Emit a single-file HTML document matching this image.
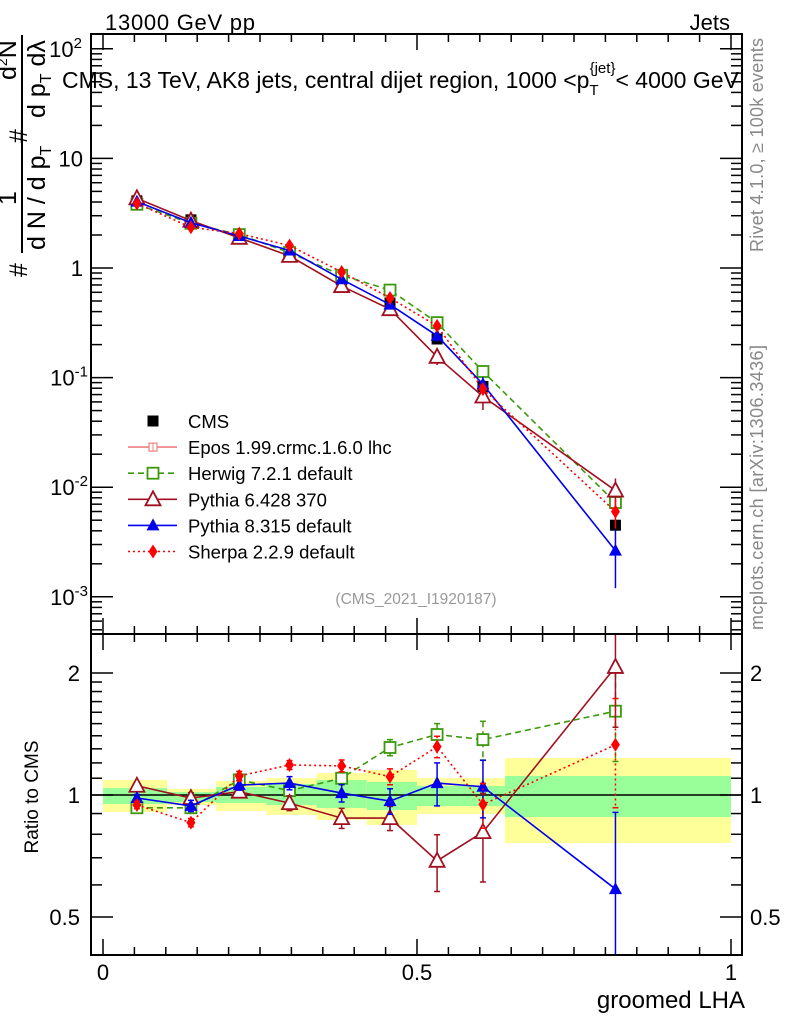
<!DOCTYPE html>
<html><head><meta charset="utf-8"><style>
html,body{margin:0;padding:0;background:#fff}
svg{display:block;font-family:"Liberation Sans",sans-serif}
</style></head><body>
<svg id="c" width="786" height="1024" viewBox="0 0 786 1024" xmlns="http://www.w3.org/2000/svg">
<rect width="786" height="1024" fill="#fff"/>
<g id="bands"></g>
<g id="series"></g>
<g id="axes"></g>
<text x="105" y="30" font-size="22" textLength="150">13000 GeV pp</text>
<text x="730" y="30" font-size="22" text-anchor="end">Jets</text>
<text x="62" y="88" font-size="23">CMS, 13 TeV, AK8 jets, central dijet region, 1000 &lt;p<tspan font-size="15" dy="7">T</tspan><tspan font-size="15" dy="-22" dx="-9">{jet}</tspan><tspan dy="15">&lt; 4000 GeV</tspan></text>
<text x="416" y="604" font-size="15.5" fill="#999" text-anchor="middle">(CMS_2021_I1920187)</text>
<text transform="translate(763,252) rotate(-90)" font-size="18" textLength="214" fill="#888">Rivet 4.1.0, ≥ 100k events</text>
<text transform="translate(763,630) rotate(-90)" font-size="18" textLength="285" fill="#888">mcplots.cern.ch [arXiv:1306.3436]</text>
<g font-size="25">
<text transform="translate(27,277) rotate(-90)">#</text>
<text transform="translate(16,205) rotate(-90)">1</text>
<line x1="22" y1="253" x2="22" y2="35" stroke="#000" stroke-width="2"/>
<text transform="translate(45,250) rotate(-90)">d N / d p<tspan font-size="16" dy="6">T</tspan></text>
<text transform="translate(27,143) rotate(-90)">#</text>
<text transform="translate(16,80) rotate(-90)">d<tspan font-size="14" dy="-9">2</tspan><tspan dy="9">N</tspan></text>
<text transform="translate(45,118) rotate(-90)">d p<tspan font-size="16" dy="6">T</tspan><tspan dy="-6"> dλ</tspan></text>
</g>
<text transform="translate(38,797) rotate(-90)" font-size="19" text-anchor="middle">Ratio to CMS</text>
<text x="745" y="1008" font-size="24" text-anchor="end">groomed LHA</text>
<g id="legend"></g>
</svg>
<script>
const binEdges=[0,0.102,0.18,0.26,0.34,0.42,0.5,0.57,0.64,1.0];
const xCenters=[0.054,0.14,0.217,0.297,0.38,0.457,0.532,0.605,0.816];
const cmsValues=[4.1,2.75,1.85,1.35,0.78,0.48,0.225,0.083,0.0045];
const yellowHi=[1.089,1.035,1.083,1.101,1.133,1.153,1.101,1.101,1.234];
const yellowLo=[0.908,0.945,0.913,0.893,0.868,0.843,0.898,0.898,0.761];
const greenHi=[1.04,1.017,1.046,1.064,1.089,1.077,1.052,1.052,1.114];
const greenLo=[0.95,0.961,0.956,0.945,0.929,0.918,0.939,0.939,0.882];
const herwigRatio=[0.93,0.93,1.09,1.025,1.10,1.31,1.41,1.37,1.61];
const herwigErr=[0.02,0.02,0.03,0.03,0.04,0.06,0.09,0.15,0.4];
const pythia6Ratio=[1.054,0.983,1.019,0.955,0.877,0.877,0.688,0.81,2.07];
const pythia6Err=[0.02,0.03,0.03,0.04,0.05,0.06,0.11,0.2,0.6];
const pythia8Ratio=[0.983,0.94,1.058,1.07,1.011,0.966,1.07,1.048,0.586];
const pythia8Err=[0.02,0.03,0.03,0.04,0.05,0.07,0.13,0.17,0.32];
const sherpaRatio=[0.945,0.855,1.114,1.186,1.18,1.11,1.316,0.948,1.33];
const sherpaErr=[0.02,0.02,0.03,0.03,0.04,0.05,0.08,0.12,0.4];
const yTickExp=[-3,-2,-1,0,1,2];
const ratioTicks=[0.5,1,2];
const xTicks=[0,0.5,1];

const NS="http://www.w3.org/2000/svg";
const L=91,R=742,T=34,MB=634,B=955;
const X=v=>103+628*v;
const Y=v=>268-109.6*Math.log10(v);
const RY=v=>795-122*Math.log2(v);
function mk(tag,at,parent){const e=document.createElementNS(NS,tag);for(const k in at)e.setAttribute(k,at[k]);(parent||document.getElementById('c')).appendChild(e);return e;}
const bands=document.getElementById('bands'),axes=document.getElementById('axes'),ser=document.getElementById('series'),leg=document.getElementById('legend');

for(let i=0;i<9;i++){
 let r=mk('rect',{x:X(binEdges[i]),y:RY(yellowHi[i]),width:X(binEdges[i+1])-X(binEdges[i]),height:RY(yellowLo[i])-RY(yellowHi[i]),fill:'#ffff99'},bands);
 
 
 let g=mk('rect',{x:X(binEdges[i]),y:RY(greenHi[i]),width:X(binEdges[i+1])-X(binEdges[i]),height:RY(greenLo[i])-RY(greenHi[i]),fill:'#99ff99'},bands);
 
 
}
mk('line',{x1:L,x2:R,y1:RY(1),y2:RY(1),stroke:'#000','stroke-width':1.5},bands);

[[T,MB],[MB,B]].forEach(([a,b])=>{let f=mk('rect',{x:L,y:a,width:R-L,height:b-a,fill:'none',stroke:'#000','stroke-width':2},axes);
 
 });
for(let k=0;k<=20;k++){const v=k*0.05,x=X(v),len=k%10==0?16:8;
 [[MB,MB-len],[T,T+len],[B,B-len],[MB,MB+len]].forEach(([a,b])=>mk('line',{x1:x,x2:x,y1:a,y2:b,stroke:'#000','stroke-width':1.5},axes));}
xTicks.forEach(v=>{let t=mk('text',{x:X(v),y:980,'font-size':22,'text-anchor':'middle'},axes);t.textContent=String(v);
 
 });
for(let e=-4;e<=2;e++)for(let m=1;m<10;m++){const v=m*Math.pow(10,e),y=Y(v);if(y<T||y>MB)continue;const len=m==1?22:11;
 mk('line',{x1:L,x2:L+len,y1:y,y2:y,stroke:'#000','stroke-width':1.5},axes);mk('line',{x1:R,x2:R-len,y1:y,y2:y,stroke:'#000','stroke-width':1.5},axes);}
yTickExp.forEach(e=>{let t=mk('text',{x:83,y:Y(Math.pow(10,e))+8,'font-size':22,'text-anchor':'end'},axes);
 
 
 if(e==0)t.textContent='1';else if(e==1)t.textContent='10';else{t.textContent='10';const s=mk('tspan',{'font-size':15,dy:-9},t);s.textContent=String(e);t.setAttribute('x',e<0?88:82);}});
for(let v=0.4;v<=2.5;v+=(v<2-1e-9?0.1:0.5)){const y=RY(v);if(y<MB||y>B)continue;const maj=ratioTicks.some(r=>Math.abs(r-v)<1e-6);const len=maj?22:11;
 mk('line',{x1:L,x2:L+len,y1:y,y2:y,stroke:'#000','stroke-width':1.5},axes);mk('line',{x1:R,x2:R-len,y1:y,y2:y,stroke:'#000','stroke-width':1.5},axes);}
ratioTicks.forEach(v=>{[[80,'end'],[750,'start']].forEach(([x,a])=>{let t=mk('text',{x:x,y:RY(v)+8,'font-size':22,'text-anchor':a},axes);t.textContent=String(v);
 
 });});

function clipY(y,a,b){return Math.max(a,Math.min(b,y));}
function marker(g,type,col,x,y){
 if(type=='sq')mk('rect',{x:x-5.5,y:y-5.5,width:11,height:11,fill:col},g);
 if(type=='osq')mk('rect',{x:x-5.5,y:y-5.5,width:11,height:11,fill:'#fff',stroke:col,'stroke-width':1.8},g);
 if(type=='otri')mk('polygon',{points:`${x},${y-8} ${x-7.5},${y+6} ${x+7.5},${y+6}`,fill:'#fff',stroke:col,'stroke-width':1.8},g);
 if(type=='tri')mk('polygon',{points:`${x},${y-7} ${x-6.5},${y+5} ${x+6.5},${y+5}`,fill:col},g);
 if(type=='dia')mk('polygon',{points:`${x},${y-7} ${x-4.5},${y} ${x},${y+7} ${x+4.5},${y}`,fill:col},g);
}
const models=[
 {name:'herwig',ratio:herwigRatio,err:herwigErr,col:'#3a9a0c',dash:'6,4',m:'osq'},
 {name:'pythia6',ratio:pythia6Ratio,err:pythia6Err,col:'#a01020',dash:'',m:'otri'},
 {name:'pythia8',ratio:pythia8Ratio,err:pythia8Err,col:'#0000ee',dash:'',m:'tri'},
 {name:'sherpa',ratio:sherpaRatio,err:sherpaErr,col:'#ff0000',dash:'2,3',m:'dia'}];
const cg=mk('g',{},ser);


xCenters.forEach((x,i)=>marker(cg,'sq','#000',X(x),Y(cmsValues[i])));
models.forEach(md=>{
 const g=mk('g',{},ser);
 
 
 const top=xCenters.map((x,i)=>[X(x),Y(cmsValues[i]*md.ratio[i])]);
 const rat=xCenters.map((x,i)=>[X(x),RY(md.ratio[i])]);
 mk('polyline',{points:top.map(p=>p.join(',')).join(' '),fill:'none',stroke:md.col,'stroke-width':1.6,'stroke-dasharray':md.dash},g);
 mk('polyline',{points:rat.map(p=>p.join(',')).join(' '),fill:'none',stroke:md.col,'stroke-width':1.6,'stroke-dasharray':md.dash},g);
 xCenters.forEach((x,i)=>{
  const r=md.ratio[i],e=md.err[i],px=X(x);
  const y1=clipY(RY(r+e),MB,B),y2=clipY(RY(Math.max(r-e,0.01)),MB,B);
  mk('line',{x1:px,x2:px,y1:y1,y2:y2,stroke:md.col,'stroke-width':1.5,'stroke-dasharray':md.dash},g);
  [y1,y2].forEach(yy=>{if(yy>MB&&yy<B)mk('line',{x1:px-3,x2:px+3,y1:yy,y2:yy,stroke:md.col,'stroke-width':1.5},g);});
  const c=cmsValues[i];
  const t1=clipY(Y(c*(r+e)),T,MB),t2=clipY(Y(c*Math.max(r-e,0.01)),T,MB);
  mk('line',{x1:px,x2:px,y1:t1,y2:t2,stroke:md.col,'stroke-width':1.5},g);
  marker(g,md.m,md.col,px,top[i][1]);
  marker(g,md.m,md.col,px,rat[i][1]);
 });
});

const items=[['CMS','#000','','sq'],['Epos 1.99.crmc.1.6.0 lhc','#f08080','','cross'],['Herwig 7.2.1 default','#3a9a0c','6,4','osq'],['Pythia 6.428 370','#a01020','','otri'],['Pythia 8.315 default','#0000ee','','tri'],['Sherpa 2.2.9 default','#ff0000','2,3','dia']];
items.forEach((it,k)=>{const y=421+k*26.1;const g=mk('g',{},leg);
 
 
 if(k>0)mk('line',{x1:128,x2:177,y1:y,y2:y,stroke:it[1],'stroke-width':1.6,'stroke-dasharray':it[2]},g);
 if(it[3]=='cross'){mk('rect',{x:149,y:y-4,width:8,height:8,fill:'#fff',stroke:it[1],'stroke-width':1.2},g);mk('line',{x1:153,x2:153,y1:y-4,y2:y+4,stroke:it[1]},g);}
 else marker(g,it[3],it[1],153,y);
 const t=mk('text',{x:188,y:y+7,'font-size':18.5},g);t.textContent=it[0];});
</script>
</body></html>
